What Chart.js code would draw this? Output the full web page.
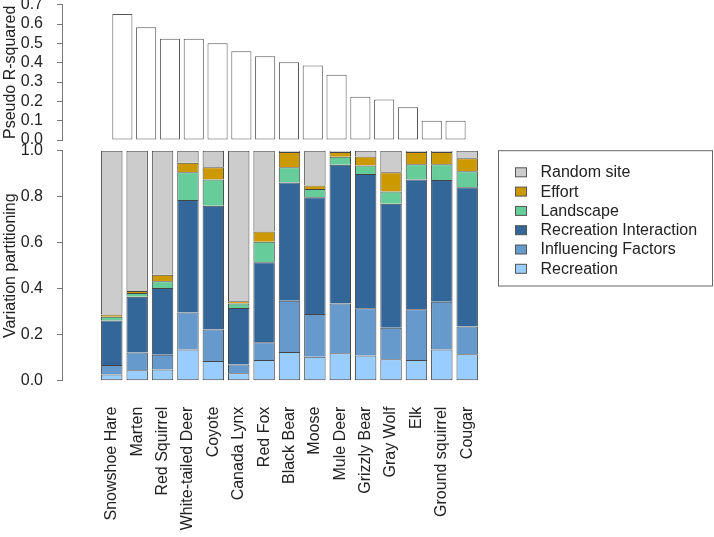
<!DOCTYPE html>
<html>
<head>
<meta charset="utf-8">
<script src="https://cdn.jsdelivr.net/npm/chart.js@4.4.1/dist/chart.umd.min.js"></script>
<style>
  html, body { margin: 0; padding: 0; background: #fff; overflow: hidden; width: 714px; height: 537px; }
  #wrap { position: relative; width: 714px; height: 537px; overflow: hidden; }
  #top { position: absolute; left: 0; top: -26px; }
  #bottom { position: absolute; left: 0; top: 120px; }
</style>
</head>
<body>
<div id="wrap">
  <canvas id="top" width="714" height="196"></canvas>
  <canvas id="bottom" width="714" height="417"></canvas>
</div>
<script>
// ---- Data ----
const categories = ["Snowshoe Hare","Marten","Red Squirrel","White-tailed Deer","Coyote","Canada Lynx","Red Fox","Black Bear","Moose","Mule Deer","Grizzly Bear","Gray Wolf","Elk","Ground squirrel","Cougar"];
const pseudoR2 = [0.652,0.583,0.524,0.524,0.500,0.459,0.433,0.402,0.386,0.338,0.224,0.210,0.169,0.100,0.100];

const recreation     = [0.027,0.045,0.049,0.136,0.085,0.032,0.090,0.125,0.104,0.119,0.109,0.093,0.090,0.136,0.115];
const influencing    = [0.041,0.078,0.064,0.160,0.138,0.038,0.077,0.223,0.186,0.216,0.206,0.137,0.220,0.207,0.120];
const recInteraction = [0.194,0.242,0.290,0.490,0.538,0.246,0.348,0.514,0.507,0.604,0.584,0.539,0.565,0.529,0.606];
const landscape      = [0.016,0.016,0.029,0.120,0.114,0.020,0.089,0.066,0.036,0.035,0.037,0.054,0.066,0.069,0.069];
const effort         = [0.010,0.009,0.029,0.042,0.053,0.009,0.045,0.066,0.016,0.020,0.039,0.083,0.053,0.053,0.057];
const randomSite     = [0.712,0.610,0.539,0.052,0.072,0.655,0.351,0.006,0.151,0.006,0.025,0.094,0.006,0.006,0.033];

const topTicks = [0.0,0.1,0.2,0.3,0.4,0.5,0.6,0.7];
const bottomTicks = [0.0,0.2,0.4,0.6,0.8,1.0];

// ---- Styling ----
Chart.defaults.font.family = "'Liberation Sans', Arial, sans-serif";
Chart.defaults.font.size = 16;
Chart.defaults.color = '#222';

const axisGray = '#777';
const XMIN = -1.386, XMAX = 14.717;
const BOTTOM_TOP = 120; // page offset of bottom canvas

const toPts = arr => arr.map((v, i) => ({ x: i, y: v }));

function yAxis(ticks, title) {
  return {
    type: 'linear',
    min: ticks[0],
    max: ticks[ticks.length - 1],
    afterBuildTicks: s => { s.ticks = ticks.map(v => ({ value: v })); },
    afterFit: s => { s.width = 62; },
    ticks: { autoSkip: false, padding: 14, color: '#222', callback: v => Number(v).toFixed(1) },
    grid: { display: true, drawOnChartArea: false, drawTicks: true, tickLength: 5, color: axisGray },
    border: { display: true, color: axisGray, width: 1 },
    title: { display: true, text: title, color: '#222', padding: { top: 1, bottom: 0 }, font: { size: 16 } }
  };
}

// ---- Top chart: Pseudo R-squared ----
new Chart(document.getElementById('top'), {
  type: 'bar',
  data: {
    datasets: [{
      label: 'Pseudo R-squared',
      data: toPts(pseudoR2),
      backgroundColor: '#ffffff',
      borderColor: '#555',
      borderWidth: 1,
      borderSkipped: false,
      barPercentage: 0.845,
      categoryPercentage: 1
    }]
  },
  options: {
    responsive: false,
    animation: false,
    devicePixelRatio: 1,
    layout: { padding: { top: 30.67, bottom: 30, left: 0, right: 214 } },
    plugins: { legend: { display: false }, tooltip: { enabled: false } },
    scales: {
      x: { type: 'linear', min: XMIN, max: XMAX, display: false },
      y: yAxis(topTicks, 'Pseudo R-squared')
    }
  }
});

// ---- Bottom chart: Variation partitioning ----
const series = [
  { label: 'Recreation', data: recreation, color: '#99ccff' },
  { label: 'Influencing Factors', data: influencing, color: '#6699cc' },
  { label: 'Recreation Interaction', data: recInteraction, color: '#336699' },
  { label: 'Landscape', data: landscape, color: '#66cc99' },
  { label: 'Effort', data: effort, color: '#cc9900' },
  { label: 'Random site', data: randomSite, color: '#cccccc' }
];

const boxLegend = {
  id: 'boxLegend',
  afterDraw(chart) {
    const ctx = chart.ctx;
    ctx.save();
    const bx = 498.5, by = 150.7 - BOTTOM_TOP, bw = 214, bh = 135.3;
    ctx.strokeStyle = '#666';
    ctx.lineWidth = 1;
    ctx.strokeRect(bx, by, bw, bh);
    const items = chart.data.datasets.slice().reverse();
    ctx.font = "16px 'Liberation Sans', Arial, sans-serif";
    ctx.textBaseline = 'middle';
    ctx.textAlign = 'left';
    items.forEach((ds, i) => {
      const cy = 172.3 - BOTTOM_TOP + i * 19.3;
      ctx.fillStyle = ds.backgroundColor;
      ctx.fillRect(515.5, cy - 4.5, 11, 9);
      ctx.strokeStyle = '#555';
      ctx.strokeRect(515.5, cy - 4.5, 11, 9);
      ctx.fillStyle = '#222';
      ctx.fillText(ds.label, 540.5, cy + 0.5);
    });
    ctx.restore();
  }
};

new Chart(document.getElementById('bottom'), {
  type: 'bar',
  data: {
    datasets: series.map((s, i) => ({
      label: s.label,
      data: toPts(s.data),
      backgroundColor: s.color,
      borderColor: '#444',
      borderWidth: 1,
      borderSkipped: i === 0 ? false : 'start',
      barPercentage: 0.845,
      categoryPercentage: 1
    }))
  },
  options: {
    responsive: false,
    animation: false,
    devicePixelRatio: 1,
    layout: { padding: { top: 150.67 - BOTTOM_TOP, bottom: 0, left: 0, right: 214 } },
    plugins: { legend: { display: false }, tooltip: { enabled: false } },
    scales: {
      x: {
        type: 'linear', min: XMIN, max: XMAX, stacked: true,
        afterBuildTicks: s => { s.ticks = categories.map((c, i) => ({ value: i })); },
        afterFit: s => { s.height = 537 - 380.67; },
        ticks: {
          autoSkip: false, minRotation: 90, maxRotation: 90, padding: 26, color: '#222',
          callback: v => categories[v] !== undefined ? categories[v] : ''
        },
        grid: { display: false, drawTicks: false },
        border: { display: false }
      },
      y: Object.assign(yAxis(bottomTicks, 'Variation partitioning'), { stacked: true })
    }
  },
  plugins: [boxLegend]
});
</script>
</body>
</html>
